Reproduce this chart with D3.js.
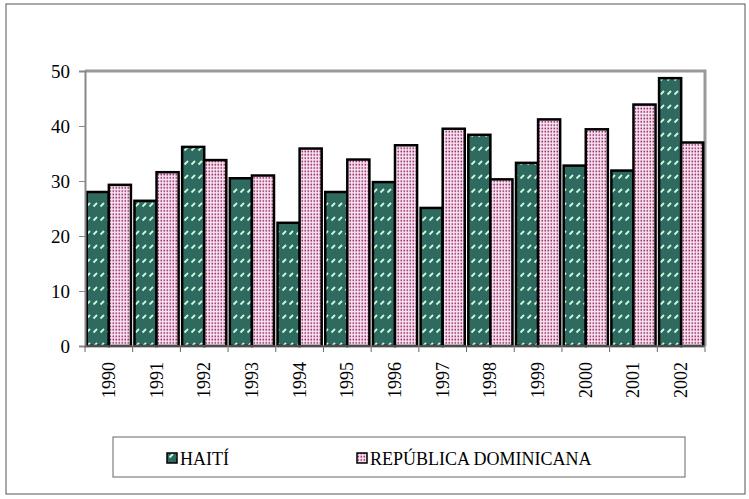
<!DOCTYPE html>
<html>
<head>
<meta charset="utf-8">
<script src="https://cdn.jsdelivr.net/npm/d3@7"></script>
<style>
body { margin: 0; background: #fff; font-family: "Times New Roman"; }
svg text { font-family: "Times New Roman" !important; }
</style>
</head>
<body>
<div class="chart"></div>
<script>
var years = ["1990","1991","1992","1993","1994","1995","1996","1997","1998","1999","2000","2001","2002"];
var haiti = [28.0, 26.4, 36.2, 30.5, 22.4, 28.0, 29.8, 25.1, 38.4, 33.3, 32.8, 31.9, 48.7];
var dominicana = [29.3, 31.6, 33.8, 31.0, 35.9, 33.9, 36.5, 39.5, 30.3, 41.2, 39.4, 43.9, 37.0];
var seriesNames = ["HAITÍ", "REPÚBLICA DOMINICANA"];
var yTicks = [0, 10, 20, 30, 40, 50];

var font = "Times New Roman";
var w = 749;
var h = 499;
var margin = {top: 71, right: 44, bottom: 153, left: 85};

var svg = d3.select(".chart")
            .append("svg")
            .attr("width", w)
            .attr("height", h)
            .style("display", "block");

var defs = svg.append("defs");

// haiti: dark teal with small light dashes
var p1 = defs.append("pattern")
   .attr("id", "pHaiti")
   .attr("patternUnits", "userSpaceOnUse")
   .attr("width", 7).attr("height", 14);
p1.append("rect").attr("width", 7).attr("height", 14).attr("fill", "#2f6a60");
p1.append("line")
   .attr("x1", 1.5).attr("y1", 9.5).attr("x2", 5).attr("y2", 6)
   .attr("stroke", "#cdfbe0").attr("stroke-width", 1.8);

// dominicana: pink with dark dots
var p2 = defs.append("pattern")
   .attr("id", "pDom")
   .attr("patternUnits", "userSpaceOnUse")
   .attr("width", 3).attr("height", 3.3);
p2.append("rect").attr("width", 3).attr("height", 3.3).attr("fill", "#fbe4f2");
p2.append("rect").attr("x", 0.5).attr("y", 0.5).attr("width", 1.6).attr("height", 1.6).attr("fill", "#8e2a62");

var fills = ["url(#pHaiti)", "url(#pDom)"];

// outer frame
svg.append("rect")
   .attr("x", 6).attr("y", 4).attr("width", 739).attr("height", 490)
   .attr("fill", "none").attr("stroke", "#555").attr("stroke-width", 1);

var pw = w - margin.left - margin.right;
var ph = h - margin.top - margin.bottom;

var xScale = d3.scaleBand().domain(years).range([0, pw]).paddingInner(0).paddingOuter(0);
var xInner = d3.scaleBand().domain([0, 1]).range([0, xScale.bandwidth()]).paddingInner(0).paddingOuter(0.08);
var yScale = d3.scaleLinear().domain([0, 50]).range([ph, 0]);

var g = svg.append("g").attr("transform", "translate(" + margin.left + "," + margin.top + ")");

// plot frame top / right
g.append("path")
   .attr("d", "M0,0H" + pw + "V" + ph)
   .attr("fill", "none").attr("stroke", "#999").attr("stroke-width", 3);

// bars
var data = [haiti, dominicana];
data.forEach(function(vals, s) {
  g.selectAll(".bar" + s)
     .data(vals)
     .enter()
     .append("rect")
     .attr("class", "bar" + s)
     .attr("x", (d, i) => xScale(years[i]) + xInner(s))
     .attr("y", (d) => yScale(d))
     .attr("width", xInner.bandwidth())
     .attr("height", (d) => ph - yScale(d))
     .attr("fill", fills[s])
     .attr("stroke", "#000")
     .attr("stroke-width", 2.5);
});

// y axis
var yAxis = g.append("g")
   .call(d3.axisLeft(yScale).tickValues(yTicks).tickSize(6).tickPadding(9));
yAxis.attr("font-family", font).attr("font-size", 19);
yAxis.select(".domain").attr("stroke", "#888").attr("stroke-width", 2);
yAxis.selectAll(".tick line").attr("stroke", "#888");
yAxis.selectAll("text")
   .style("font-family", font)
   .attr("font-size", 19)
   .attr("fill", "#000");

// x axis with ticks at category boundaries
var xAxis = g.append("g").attr("transform", "translate(0," + ph + ")");
xAxis.append("line").attr("x1", 0).attr("x2", pw).attr("stroke", "#666").attr("stroke-width", 1.5);
xAxis.selectAll(".xt")
   .data(years.concat(["end"]))
   .enter()
   .append("line")
   .attr("x1", (d, i) => i * xScale.step())
   .attr("x2", (d, i) => i * xScale.step())
   .attr("y1", 0).attr("y2", 6)
   .attr("stroke", "#666");
xAxis.selectAll(".xl")
   .data(years)
   .enter()
   .append("text")
   .attr("transform", (d) => "translate(" + (xScale(d) + xScale.bandwidth() / 2 + 6) + ",16) rotate(-90)")
   .attr("text-anchor", "end")
   .style("font-family", font)
   .attr("font-size", 18)
   .text((d) => d);

// legend
var lg = svg.append("g");
lg.append("rect")
   .attr("x", 113).attr("y", 437).attr("width", 572).attr("height", 40)
   .attr("fill", "#fff").attr("stroke", "#666").attr("stroke-width", 1);
var legX = [167, 357];
seriesNames.forEach(function(name, s) {
  lg.append("rect")
     .attr("x", legX[s]).attr("y", 453).attr("width", 10).attr("height", 10)
     .attr("fill", fills[s]).attr("stroke", "#000").attr("stroke-width", 1.5);
  lg.append("text")
     .attr("x", legX[s] + 13).attr("y", 465)
     .style("font-family", font)
     .attr("font-size", 18)
     .text(name);
});
</script>
</body>
</html>
